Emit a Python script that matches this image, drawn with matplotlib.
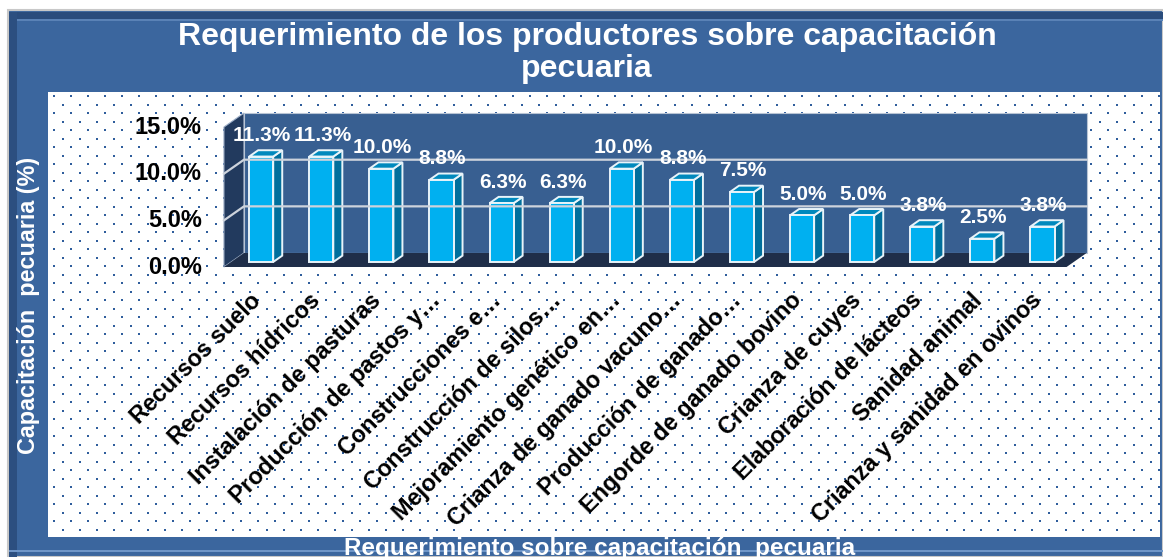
import numpy as np
import matplotlib.pyplot as plt
from matplotlib.patches import Polygon, Rectangle

plt.rcParams['font.family'] = ['Liberation Sans', 'DejaVu Sans']
plt.rcParams['font.weight'] = 'bold'

categories = ['Recursos suelo', 'Recursos hídricos', 'Instalación de pasturas',
              'Producción de pastos y…', 'Construcciones e…',
              'Construcción de silos…', 'Mejoramiento genético en…',
              'Crianza de ganado vacuno…', 'Producción de ganado…',
              'Engorde de ganado bovino', 'Crianza de cuyes',
              'Elaboración de lácteos', 'Sanidad animal',
              'Crianza y sanidad en ovinos']
values = [11.3, 11.3, 10.0, 8.8, 6.3, 6.3, 10.0, 8.8, 7.5, 5.0, 5.0, 3.8, 2.5, 3.8]
yticks = [0, 5, 10, 15]
ytick_labels = ['0.0%', '5.0%', '10.0%', '15.0%']

title = 'Requerimiento de los productores sobre capacitación\npecuaria'
ylabel = 'Capacitación  pecuaria (%)'
xlabel = 'Requerimiento sobre capacitación  pecuaria'

W, H = 1163, 557
fig = plt.figure(figsize=(W / 100, H / 100), dpi=100)
fig.patch.set_facecolor('white')

# background frame and dotted panel, in pixel units
bg = fig.add_axes([0, 0, 1, 1])
bg.set_xlim(0, W)
bg.set_ylim(H, 0)
bg.axis('off')
bg.add_patch(Rectangle((8, 10), W - 8, H - 10, fc='#3b669e', ec='#c8c8c8', lw=1.5))
bg.add_patch(Rectangle((9, 12), W, 9, fc='#2a4c7c', ec='none'))
bg.add_patch(Rectangle((9, 19), W, 2, fc='#5a82b6', ec='none'))
bg.add_patch(Rectangle((9, 12), 8, H, fc='#2c4f80', ec='none'))
bg.add_patch(Rectangle((9, 550), W, 2, fc='#6f96c8', ec='none'))
bg.add_patch(Rectangle((48, 92), 1112, 445, fc='white', ec='none'))
dx, dy = [], []
for k, yy in enumerate(np.arange(96, 537, 8.5)):
    xs = np.arange(54 + (k % 2) * 8.5, 1160, 17)
    dx.extend(xs)
    dy.extend([yy] * len(xs))
bg.scatter(dx, dy, s=2.2, c='#2f5d9c', marker='s', lw=0)

fig.text(587 / W, 1 - 53 / H, title, ha='center', va='center', color='white',
         fontsize=23, fontweight='bold', linespacing=1.12)
fig.text(29 / W, 1 - 305 / H, ylabel, ha='center', va='center', rotation=90,
         color='white', fontsize=16.8, fontweight='bold')
fig.text(600 / W, 1 - 537 / H, xlabel, ha='center', va='top', color='white',
         fontsize=17.5, fontweight='bold')

# main 3d-look chart: x index at front plane -> 254 + 60.1*i px, value -> 267 - 9.33*v px
x_lo, x_hi, y_lo, y_hi = -0.9, 14.0, -1.5, 17.0
px_l, px_r = 254 + 60.1 * x_lo, 254 + 60.1 * x_hi
px_t, px_b = 267 - 9.33 * y_hi, 267 - 9.33 * y_lo
ax = fig.add_axes([px_l / W, 1 - px_b / H, (px_r - px_l) / W, (px_b - px_t) / H])
ax.set_xlim(x_lo, x_hi)
ax.set_ylim(y_lo, y_hi)
ax.axis('off')

DX, DY = 0.333, 1.5       # shift for full depth
x0, x1 = -0.5, 13.52
top = yticks[-1]


def pt(x, v, z):
    return (x + z * DX, v + z * DY)


# side wall, back wall, floor
ax.add_patch(Polygon([pt(x0, 0, 0), pt(x0, 0, 1), pt(x0, top, 1), pt(x0, top, 0)],
                     fc='#223a5e', ec='#9fb0c8', lw=0.8))
ax.add_patch(Polygon([pt(x0, 0, 1), pt(x1, 0, 1), pt(x1, top, 1), pt(x0, top, 1)],
                     fc='#385f91', ec='#b8c4d4', lw=0.8))
ax.add_patch(Polygon([pt(x0, 0, 0), pt(x1, 0, 0), pt(x1, 0, 1), pt(x0, 0, 1)],
                     fc='#1f2e49', ec='none'))
for t in yticks[1:-1]:
    p = [pt(x0, t, 0), pt(x0, t, 1), pt(x1, t, 1)]
    ax.plot([q[0] for q in p], [q[1] for q in p], color='#cdd3dc', lw=1.6)

for t, lab in zip(yticks, ytick_labels):
    ax.annotate(lab, xy=pt(x0, t, 0), xytext=(-22, 0), textcoords='offset pixels',
                ha='right', va='center', fontsize=17, fontweight='bold', color='black')

# bars
bw, zb, bd = 0.4, 0.36, 0.45
for i, v in enumerate(values):
    l, r = i - bw / 2, i + bw / 2
    ax.add_patch(Polygon([pt(r, 0, zb), pt(r, 0, zb + bd), pt(r, v, zb + bd), pt(r, v, zb)],
                         fc='#006f9c', ec='#e8f4fa', lw=1.4))
    ax.add_patch(Polygon([pt(l, v, zb), pt(r, v, zb), pt(r, v, zb + bd), pt(l, v, zb + bd)],
                         fc='#0089bd', ec='#e8f4fa', lw=1.4))
    ax.add_patch(Polygon([pt(l, 0, zb), pt(r, 0, zb), pt(r, v, zb), pt(l, v, zb)],
                         fc='#00b0f0', ec='#e8f4fa', lw=1.4))
    ax.annotate(f'{v:.1f}%', xy=pt(i, v, zb), xytext=(1, 21), textcoords='offset pixels',
                ha='center', va='center', fontsize=15, fontweight='bold', color='white')
    ax.annotate(categories[i], xy=pt(i, 0, 0), xytext=(3, -30), textcoords='offset pixels',
                ha='right', va='center', rotation=45, rotation_mode='anchor',
                fontsize=16.8, fontweight='bold', color='black')

fig.savefig('out.png', dpi=100)
